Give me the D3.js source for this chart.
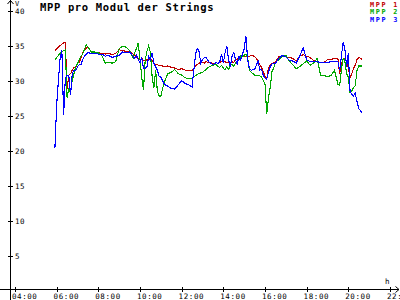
<!DOCTYPE html>
<html>
<head>
<meta charset="utf-8">
<script src="https://cdn.jsdelivr.net/npm/d3@7"></script>
<style>
body { margin: 0; background: #fff; }
svg { display: block; }
text { font-family: "DejaVu Sans Mono", monospace; }
</style>
</head>
<body>
<script>
var width = 400;
var height = 300;

var titleText = "MPP pro Modul der Strings";
var seriesNames = ["MPP 1", "MPP 2", "MPP 3"];
var seriesColors = ["#c00000", "#00a800", "#0000ff"];
var yTicks = [5, 10, 15, 20, 25, 30, 35, 40];
var xTicks = ["04:00", "06:00", "08:00", "10:00", "12:00", "14:00", "16:00", "18:00", "20:00", "22:00"];

var times = [
    "05:55","06:00","06:05","06:10","06:15","06:20","06:25","06:30","06:35","06:40",
    "06:45","06:50","06:55","07:00","07:05","07:10","07:15","07:20","07:25","07:30",
    "07:40","07:50","08:00","08:10","08:20","08:30","08:40","08:50","09:00","09:10","09:20","09:30","09:40",
    "09:45","09:50","09:55","10:00","10:05","10:10","10:15","10:20","10:25","10:30","10:35","10:40","10:45","10:50","10:55","11:00",
    "11:10","11:20","11:30","11:40","11:50","12:00","12:10","12:20","12:30",
    "12:35","12:40","12:45","12:50","12:55","13:00","13:05","13:10",
    "13:20","13:30","13:40",
    "13:45","13:50","13:55","14:00","14:05","14:10","14:15","14:20","14:25","14:30",
    "14:35","14:40","14:45","14:50","14:55","15:00","15:05","15:10","15:15","15:20",
    "15:30","15:40",
    "15:45","15:50","15:55","16:00","16:05","16:10","16:15","16:20","16:25","16:30",
    "16:40","16:50","17:00","17:10","17:20","17:30","17:40","17:50","18:00","18:10","18:20","18:30","18:40","18:50","19:00","19:10","19:20","19:30",
    "19:35","19:40","19:45","19:50","19:55","20:00","20:05","20:10","20:15","20:20","20:25","20:30","20:35","20:40"
];

var mpp1 = [
    34.3,34.5,34.8,35.0,35.2,35.4,35.4,28.8,30.8,31.0,31.5,31.9,31.9,32.5,32.6,33.2,34.0,34.4,34.6,34.8,
    34.1,34.0,34.0,33.9,33.8,33.9,33.7,33.9,34.4,34.3,34.2,34.1,33.8,
    33.6,33.4,33.2,33.0,33.2,32.9,32.8,33.0,33.0,33.1,32.9,32.5,32.2,32.3,32.1,32.2,
    32.0,32.1,31.9,31.8,31.6,31.7,31.5,31.4,31.5,
    31.8,32.1,32.3,32.5,32.6,32.6,32.5,32.7,
    32.6,32.5,32.3,
    32.5,32.6,32.8,32.9,32.7,32.6,32.6,32.5,32.7,32.6,33.0,33.1,33.0,33.2,33.4,33.5,33.4,33.5,33.5,33.6,
    33.5,32.8,
    32.3,31.9,31.3,30.6,30.3,31.8,32.3,32.4,32.6,32.7,
    33.4,33.5,33.4,33.3,33.2,32.8,33.5,33.7,33.5,33.3,32.9,32.7,32.6,32.6,33.0,33.0,33.2,33.1,
    31.0,32.5,33.0,33.2,32.6,31.9,30.4,31.0,31.8,32.2,33.0,33.3,33.2,33.0
];

var mpp2 = [
    33.0,33.3,33.6,33.9,34.1,34.3,34.4,27.5,29.0,28.2,30.1,31.0,32.0,32.4,33.0,33.5,33.8,34.5,35.1,34.8,
    34.1,34.1,34.0,33.6,32.5,32.6,32.5,32.7,34.6,34.9,34.8,34.3,33.2,
    34.0,34.6,35.4,33.0,30.5,28.6,33.0,34.2,35.0,34.0,30.5,29.0,31.5,28.5,27.8,27.8,
    29.8,31.0,31.2,31.6,31.0,30.8,30.4,30.3,30.3,
    30.5,30.7,30.9,31.0,31.1,31.2,31.4,31.6,
    32.0,32.2,32.3,
    32.0,31.9,32.2,31.8,31.5,32.0,31.6,32.1,32.4,32.0,32.5,32.8,33.0,33.5,33.4,33.6,33.8,33.2,31.5,31.2,
    30.8,30.7,
    30.7,30.5,30.0,29.5,25.2,27.5,29.0,31.3,31.8,32.6,
    33.0,33.5,33.6,32.8,32.3,31.7,32.0,32.4,32.8,32.2,32.5,33.2,30.8,30.7,30.6,30.7,31.5,29.5,
    29.3,31.5,33.2,32.8,31.0,30.5,28.3,28.5,29.0,29.3,31.5,32.1,32.1,32.1
];

var mpp3 = [
    20.4,26.5,30.0,33.2,34.3,25.1,30.4,30.8,30.7,28.0,31.1,31.5,31.4,32.0,32.3,32.3,33.0,33.5,33.8,34.0,
    33.9,33.9,33.8,33.8,33.5,33.6,33.3,33.5,33.6,34.1,34.0,34.1,33.5,
    33.2,33.6,33.0,32.6,33.3,31.8,31.8,31.9,33.5,33.0,34.0,32.5,32.0,31.5,30.6,30.5,
    29.5,29.2,28.9,28.8,29.4,30.0,29.6,29.4,29.1,
    31.5,33.8,34.6,34.2,32.5,33.0,33.3,33.3,
    32.6,32.3,32.6,
    32.4,32.8,33.8,32.5,34.0,35.0,33.0,32.0,33.5,34.0,33.0,32.4,33.5,33.0,33.8,34.5,36.4,33.0,31.8,31.5,
    31.6,32.8,
    31.5,31.6,30.8,30.4,30.2,31.2,32.0,32.4,32.5,32.5,
    33.2,33.6,33.4,32.9,32.8,32.5,33.5,34.7,33.0,32.7,32.8,32.7,32.6,32.6,32.6,32.7,32.8,32.7,
    31.5,33.5,35.5,34.5,32.0,34.0,28.5,28.0,27.8,28.2,27.0,26.0,25.7,25.3
];

var allSeries = [mpp1, mpp2, mpp3];

function toHours(s) {
    var p = s.split(":");
    return +p[0] + p[1] / 60;
}

var x = d3.scaleLinear().domain([4, 22]).range([15, 390]);
var y = d3.scaleLinear().domain([0, 40]).range([290.5, 10.7]);

var axisX = 10.5;
var axisY = 289.5;

var svg = d3.select("body").append("svg")
    .attr("width", width)
    .attr("height", height);

// data lines
var line = d3.line()
    .x(function(d, i) { return x(toHours(times[i])); })
    .y(function(d) { return y(d); });

svg.selectAll("path.series")
    .data(allSeries)
    .enter().append("path")
    .attr("class", "series")
    .attr("d", line)
    .attr("fill", "none")
    .attr("stroke", function(d, i) { return seriesColors[i]; })
    .attr("stroke-width", 1.1)
    .attr("shape-rendering", "crispEdges");

// y axis
var yAxis = svg.append("g")
    .attr("transform", "translate(" + axisX + ",0)")
    .call(d3.axisRight(y).tickValues(yTicks).tickSize(2.5).tickPadding(2));
yAxis.select(".domain").remove();
yAxis.selectAll(".tick line").attr("x1", -2.5).attr("stroke", "#000").attr("shape-rendering", "crispEdges");
yAxis.selectAll(".tick text")
    .attr("x", 4.5)
    .attr("dy", "2.6")
    .attr("fill", "#000")
    .style("font-size", "7.5px")
    .style("letter-spacing", "0.6px")
    .style("font-family", "'DejaVu Sans Mono', monospace");

// x axis
var xAxis = svg.append("g")
    .attr("transform", "translate(0," + axisY + ")")
    .call(d3.axisBottom(x).tickValues(xTicks.map(toHours)).tickSize(2.5)
        .tickFormat(function(d, i) { return xTicks[i]; }));
xAxis.select(".domain").remove();
xAxis.selectAll(".tick line").attr("y1", -2.5).attr("stroke", "#000").attr("shape-rendering", "crispEdges");
xAxis.selectAll(".tick text")
    .attr("x", -3.6)
    .attr("y", 9.8)
    .attr("dy", 0)
    .attr("text-anchor", "start")
    .attr("fill", "#000")
    .style("font-size", "7.5px")
    .style("letter-spacing", "0.6px")
    .style("font-family", "'DejaVu Sans Mono', monospace");

// axis lines with arrows
svg.append("line")
    .attr("x1", axisX).attr("y1", 0).attr("x2", axisX).attr("y2", height)
    .attr("stroke", "#000").attr("shape-rendering", "crispEdges");
svg.append("line")
    .attr("x1", 0).attr("y1", axisY).attr("x2", 399).attr("y2", axisY)
    .attr("stroke", "#000").attr("shape-rendering", "crispEdges");
svg.append("path")
    .attr("d", "M7.5,4 L10.5,0.5 L13.5,4")
    .attr("fill", "none").attr("stroke", "#000").attr("stroke-width", 1);
svg.append("path")
    .attr("d", "M395.5,286.5 L399,289.5 L395.5,292.5")
    .attr("fill", "none").attr("stroke", "#000").attr("stroke-width", 1);

svg.append("text")
    .attr("x", 15).attr("y", 6)
    .style("font-size", "7px")
    .text("V");
svg.append("text")
    .attr("x", 385).attr("y", 283.5)
    .style("font-size", "7.5px")
    .text("h");

// title
svg.append("text")
    .attr("x", 40).attr("y", 10.8)
    .style("font-size", "10.5px")
    .style("font-weight", "bold")
    .style("letter-spacing", "0.65px")
    .text(titleText);

// legend
svg.selectAll("text.legend")
    .data(seriesNames)
    .enter().append("text")
    .attr("class", "legend")
    .attr("x", 370)
    .attr("y", function(d, i) { return 6.8 + i * 7.5; })
    .attr("fill", function(d, i) { return seriesColors[i]; })
    .style("font-size", "6.8px")
    .style("font-weight", "bold")
    .style("letter-spacing", "1.7px")
    .text(function(d) { return d; });
</script>
</body>
</html>
